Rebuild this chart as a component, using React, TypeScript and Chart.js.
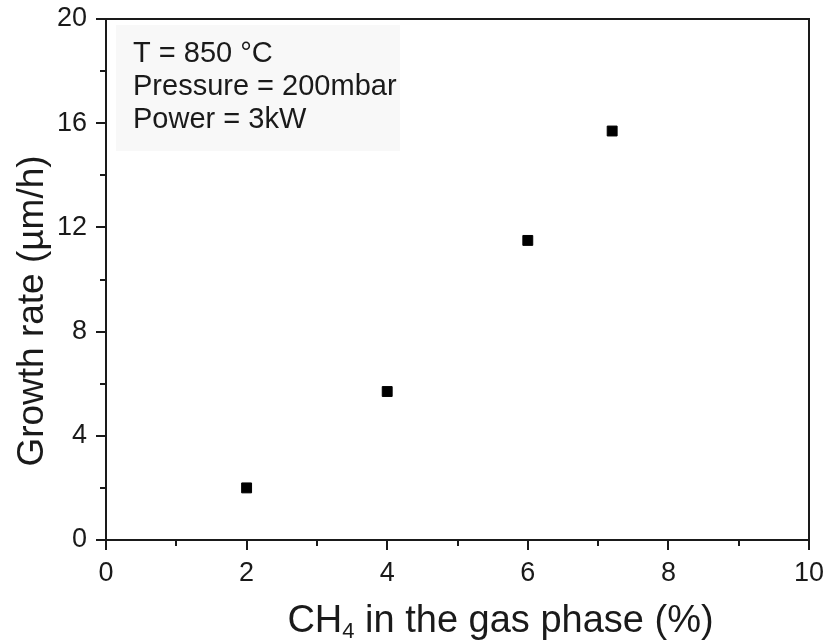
import React, { useEffect, useRef } from 'react';
import { Chart, registerables } from 'chart.js';

Chart.register(...registerables);

// ---- data ----
const ch4Percent = [2, 4, 6, 7.2];
const growthRate = [2.0, 5.7, 11.5, 15.7];

const xRange = [0, 10];
const xMajorStep = 2;
const xMinorStep = 1;
const yRange = [0, 20];
const yMajorStep = 4;
const yMinorStep = 2;

const annotationLines = ['T = 850 °C', 'Pressure = 200mbar', 'Power = 3kW'];
const xTitleParts = ['CH', '4', ' in the gas phase (%)'];
const yTitleText = 'Growth rate (µm/h)';

const FONT = '"Liberation Sans", Arial, Helvetica, sans-serif';
const INK = '#1a1a1a';

const decorPlugin = {
  id: 'decor',
  beforeDatasetsDraw(chart: any) {
    const { ctx, chartArea } = chart;
    ctx.save();
    ctx.fillStyle = '#f8f8f8';
    ctx.fillRect(chartArea.left + 10, chartArea.top + 6, 284, 126);
    ctx.restore();
  },
  afterDraw(chart: any) {
    const { ctx, chartArea } = chart;
    const xs = chart.scales.x;
    const ys = chart.scales.y;
    ctx.save();
    // frame
    ctx.strokeStyle = INK;
    ctx.lineWidth = 2;
    ctx.strokeRect(chartArea.left, chartArea.top, chartArea.right - chartArea.left, chartArea.bottom - chartArea.top);
    // x ticks
    ctx.beginPath();
    for (let v = xRange[0]; v <= xRange[1] + 1e-9; v += xMinorStep) {
      const px = Math.round(xs.getPixelForValue(v));
      const len = Math.abs(v % xMajorStep) < 1e-9 ? 10 : 6;
      ctx.moveTo(px, chartArea.bottom);
      ctx.lineTo(px, chartArea.bottom + len);
    }
    // y ticks
    for (let v = yRange[0]; v <= yRange[1] + 1e-9; v += yMinorStep) {
      const py = Math.round(ys.getPixelForValue(v));
      const len = Math.abs(v % yMajorStep) < 1e-9 ? 10 : 6;
      ctx.moveTo(chartArea.left, py);
      ctx.lineTo(chartArea.left - len, py);
    }
    ctx.stroke();

    // annotation text
    ctx.fillStyle = INK;
    ctx.font = `29px ${FONT}`;
    ctx.textAlign = 'left';
    ctx.textBaseline = 'alphabetic';
    annotationLines.forEach((line, i) => {
      ctx.fillText(line, chartArea.left + 27, chartArea.top + 43 + i * 33);
    });

    // x title with subscript
    const mainFont = `38px ${FONT}`;
    const subFont = `22px ${FONT}`;
    ctx.font = mainFont;
    const w0 = ctx.measureText(xTitleParts[0]).width;
    const w2 = ctx.measureText(xTitleParts[2]).width;
    ctx.font = subFont;
    const w1 = ctx.measureText(xTitleParts[1]).width;
    const total = w0 + w1 + w2;
    const cx = (chartArea.left + chartArea.right) / 2 + 43;
    const base = chartArea.bottom + 92;
    const x0 = cx - total / 2;
    ctx.font = mainFont;
    ctx.fillText(xTitleParts[0], x0, base);
    ctx.font = subFont;
    ctx.fillText(xTitleParts[1], x0 + w0, base + 6);
    ctx.font = mainFont;
    ctx.fillText(xTitleParts[2], x0 + w0 + w1, base);

    // y title
    ctx.save();
    ctx.translate(43, 311);
    ctx.rotate(-Math.PI / 2);
    ctx.font = `37px ${FONT}`;
    ctx.textAlign = 'center';
    ctx.fillText(yTitleText, 0, 0);
    ctx.restore();

    ctx.restore();
  },
};

export default function App() {
  const canvasRef = useRef<HTMLCanvasElement | null>(null);

  useEffect(() => {
    if (!canvasRef.current) return;
    const chart = new Chart(canvasRef.current, {
      type: 'scatter',
      data: {
        datasets: [
          {
            data: ch4Percent.map((x, i) => ({ x, y: growthRate[i] })),
            pointStyle: 'rect',
            pointRadius: 7,
            pointHoverRadius: 7,
            backgroundColor: '#000',
            borderColor: '#000',
            borderWidth: 1,
          },
        ],
      },
      options: {
        responsive: false,
        animation: false,
        events: [],
        layout: { padding: { top: 19, right: 19, left: 0, bottom: 0 } },
        plugins: { legend: { display: false }, tooltip: { enabled: false } },
        scales: {
          x: {
            type: 'linear',
            min: xRange[0],
            max: xRange[1],
            afterFit: (s: any) => {
              s.height = 100;
              s.paddingLeft = 0;
              s.paddingRight = 0;
            },
            ticks: {
              stepSize: xMajorStep,
              padding: 17,
              color: INK,
              maxRotation: 0,
              autoSkip: false,
              font: { family: FONT, size: 27 },
            },
            grid: { display: false, drawTicks: false },
            border: { display: false },
          },
          y: {
            type: 'linear',
            min: yRange[0],
            max: yRange[1],
            afterFit: (s: any) => {
              s.width = 106;
              s.paddingTop = 0;
              s.paddingBottom = 0;
            },
            ticks: {
              stepSize: yMajorStep,
              padding: 19,
              color: INK,
              autoSkip: false,
              font: { family: FONT, size: 27 },
            },
            grid: { display: false, drawTicks: false },
            border: { display: false },
          },
        },
      },
      plugins: [decorPlugin],
    });
    return () => chart.destroy();
  }, []);

  return (
    <div style={{ position: 'absolute', left: 0, top: 0, width: 828, height: 640, background: '#fff' }}>
      <canvas ref={canvasRef} width={828} height={640} />
    </div>
  );
}
